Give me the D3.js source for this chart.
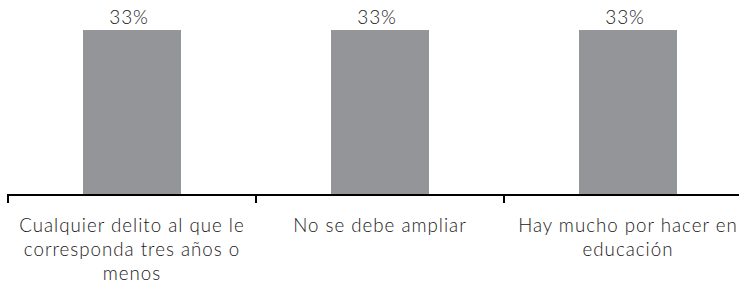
<!DOCTYPE html>
<html>
<head>
<meta charset="utf-8">
<script src="https://cdn.jsdelivr.net/npm/d3@7"></script>
<style>
  html, body { margin: 0; padding: 0; background: #fff; }
  svg { display: block; }
  text { font-family: Lato, "Open Sans", sans-serif; fill: #1a1718; font-weight: 300; }
</style>
</head>
<body>
<svg id="chart" width="739" height="286"></svg>
<script>
const categories = [
  "Cualquier delito al que le corresponda tres años o menos",
  "No se debe ampliar",
  "Hay mucho por hacer en educación"
];
const categoryLines = [
  ["Cualquier delito al que le", "corresponda tres años o", "menos"],
  ["No se debe ampliar"],
  ["Hay mucho por hacer en", "educación"]
];
const values = [33, 33, 33];
const valueLabels = ["33%", "33%", "33%"];

const svg = d3.select("#chart");
const baseY = 195;

const x = d3.scaleBand()
  .domain(categories)
  .range([8, 752])
  .paddingInner(0.605)
  .paddingOuter(0.3025);

const y = d3.scaleLinear()
  .domain([0, 35])
  .range([baseY, 20]);

svg.append("g").selectAll("rect")
  .data(values)
  .join("rect")
  .attr("x", (d, i) => x(categories[i]))
  .attr("y", d => y(d))
  .attr("width", x.bandwidth())
  .attr("height", d => y(0) - y(d))
  .attr("fill", "#939598");

svg.append("g").selectAll("text")
  .data(values)
  .join("text")
  .attr("x", (d, i) => x(categories[i]) + x.bandwidth() / 2 - 3)
  .attr("y", d => y(d) - 6)
  .attr("text-anchor", "middle")
  .style("font-size", "19px")
  .style("letter-spacing", "0.8px")
  .text((d, i) => valueLabels[i]);

// axis line
const step = x.step();
svg.append("line")
  .attr("x1", x.range()[0] - 1)
  .attr("x2", 739)
  .attr("y1", baseY)
  .attr("y2", baseY)
  .attr("stroke", "#000")
  .attr("stroke-width", 2);

// tick marks at category boundaries
const bounds = categories.map((c, i) => x.range()[0] + i * step);
svg.append("g").selectAll("line")
  .data(bounds)
  .join("line")
  .attr("x1", d => d)
  .attr("x2", d => d)
  .attr("y1", baseY)
  .attr("y2", baseY + 8)
  .attr("stroke", "#000")
  .attr("stroke-width", 2);

// category labels
const lab = svg.append("g").selectAll("text")
  .data(categories)
  .join("text")
  .attr("text-anchor", "middle")
  .style("font-size", "18.7px")
  .style("letter-spacing", "1px");
lab.each(function(c, i) {
  const t = d3.select(this);
  const cx = x(c) + x.bandwidth() / 2;
  categoryLines[i].forEach((line, j) => {
    t.append("tspan")
      .attr("x", cx)
      .attr("y", 232 + j * 24)
      .text(line);
  });
});
</script>
</body>
</html>
